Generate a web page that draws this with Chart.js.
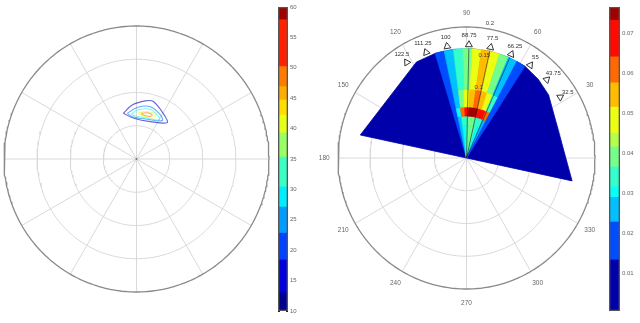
<!DOCTYPE html>
<html><head><meta charset="utf-8">
<script src="https://cdn.jsdelivr.net/npm/chart.js@4.4.1/dist/chart.umd.min.js"></script>
<style>
html,body{margin:0;padding:0;background:#fff;}
#wrap{position:relative;width:640px;height:323px;overflow:hidden;background:#fff;}
canvas{position:absolute;top:0;}
</style></head><body>
<div id="wrap">
<canvas id="leftPolar" width="275" height="323" style="left:0px"></canvas>
<canvas id="leftBar" width="50" height="323" style="left:270px"></canvas>
<canvas id="rightPolar" width="300" height="323" style="left:300px"></canvas>
<canvas id="rightBar" width="40" height="323" style="left:600px"></canvas>
</div>
<script>
// ---------------- shared ----------------
const spokeAngles = [0, 30, 60, 90, 120, 150, 180, 210, 240, 270, 300, 330];

// ---------------- left panel (contour plot) ----------------
const leftRingValues = [1, 2, 3, 4];
const leftContourLevels = [13, 22, 30, 40, 48];
const leftContourAngles = [
  [106.2, 94.6, 81.2, 73.2, 55.6, 49.8, 69.4, 93.8],
  [101.5, 89.2, 75, 61.4, 56.1, 74.9, 95.8],
  [97, 88, 75, 63, 60, 75, 92],
  [88, 78, 67, 68, 82],
  [84, 76, 70, 73, 81]
];
const leftContourRadii = [
  [1.43, 1.63, 1.77, 1.80, 1.54, 1.43, 1.20, 1.23],
  [1.40, 1.55, 1.63, 1.51, 1.39, 1.24, 1.28],
  [1.36, 1.48, 1.55, 1.45, 1.36, 1.27, 1.30],
  [1.38, 1.46, 1.45, 1.33, 1.31],
  [1.38, 1.43, 1.40, 1.34, 1.34]
];
const leftBarLevels = [10, 13, 18.4, 22.8, 27.1, 30.4, 35.3, 39.3, 42.2, 44.7, 46.9, 50.2, 57.9, 60];
const leftBarTicks = [10, 15, 20, 25, 30, 35, 40, 45, 50, 55, 60];

// ---------------- right panel (filled polar contour) ----------------
const rightRingValues = [0.05, 0.1, 0.15, 0.2];
const rightRadialLabelRings = [0.1, 0.15, 0.2];
const fanOutlineAngles = [168, 118, 107, 97, 87, 77, 67, 57, 47, 37, -12];
const fanOutlineRadii = [0.169, 0.166, 0.167, 0.167, 0.167, 0.167, 0.167, 0.167, 0.164, 0.160, 0.168];
const fanBaseValue = 0.004;
const sectorEdges = [107, 102, 97, 92, 87, 82, 77, 72, 67, 62, 57];
const ringEdges = [0, 0.05, 0.064, 0.078, 0.105, 0.167];
const cellValues = [ // rows: rings inner -> outer ; columns: sectors 107deg -> 57deg
  [0.015, 0.024, 0.029, 0.032, 0.038, 0.038, 0.032, 0.029, 0.024, 0.015],
  [0.015, 0.024, 0.032, 0.032, 0.038, 0.038, 0.032, 0.032, 0.024, 0.015],
  [0.015, 0.029, 0.058, 0.070, 0.075, 0.075, 0.070, 0.068, 0.058, 0.015],
  [0.015, 0.024, 0.038, 0.046, 0.052, 0.058, 0.052, 0.046, 0.032, 0.015],
  [0.015, 0.024, 0.032, 0.038, 0.046, 0.052, 0.046, 0.038, 0.024, 0.015]
];
const directionAngles = [122.5, 111.25, 100, 88.75, 77.5, 66.25, 55, 43.75, 32.5];
const directionLabels = ['122.5', '111.25', '100', '88.75', '77.5', '66.25', '55', '43.75', '32.5'];
const highlightedDirections = [88.75, 77.5, 66.25];
const rightBarLevels = [0.0005, 0.0133, 0.0228, 0.029, 0.0316, 0.0366, 0.0416, 0.0451, 0.0516, 0.0577, 0.0642, 0.0734, 0.0767];
const rightBarTicks = [0.01, 0.02, 0.03, 0.04, 0.05, 0.06, 0.07];

// ---------------- helpers ----------------
const FONT = "'Liberation Sans', Arial, sans-serif";
function clamp01(v){ return Math.min(1, Math.max(0, v)); }
function jetRGB(f){
  f = clamp01(f);
  const r = clamp01(Math.min(4*f - 1.5, -4*f + 4.5));
  const g = clamp01(Math.min(4*f - 0.5, -4*f + 3.5));
  const b = clamp01(Math.min(4*f + 0.5, -4*f + 2.5));
  return [Math.round(r*255), Math.round(g*255), Math.round(b*255)];
}
function jet(f, a){
  const c = jetRGB(f);
  return a === undefined ? `rgb(${c[0]},${c[1]},${c[2]})` : `rgba(${c[0]},${c[1]},${c[2]},${a})`;
}
function bandColor(levels, v){
  const lo = levels[0], hi = levels[levels.length-1];
  let i = 0;
  while (i < levels.length - 2 && v >= levels[i+1]) i++;
  const ref = levels[i] + 0.25 * (levels[i+1] - levels[i]);
  return jet((ref - lo) / (hi - lo));
}
const toXY = (deg, r) => ({x: r*Math.cos(deg*Math.PI/180), y: r*Math.sin(deg*Math.PI/180)});
function arc(r, a0, a1, step){
  const n = Math.max(1, Math.ceil(Math.abs(a1 - a0) / step));
  const pts = [];
  for (let i = 0; i <= n; i++) pts.push(toXY(a0 + (a1 - a0) * i / n, r));
  return pts;
}
function lineDs(data, color, width, extra){
  return Object.assign({data, showLine: true, borderColor: color, borderWidth: width,
    pointRadius: 0, fill: false, tension: 0, clip: false}, extra || {});
}
function gridDatasets(rings, outerColor, innerColor){
  const out = [];
  const R = rings[rings.length-1];
  const spokes = [];
  spokeAngles.forEach(a => { spokes.push({x:0,y:0}); spokes.push(toXY(a, R)); spokes.push({x:0,y:null}); });
  out.push(lineDs(spokes, innerColor, 1));
  rings.slice(0, -1).forEach(r => out.push(lineDs(arc(r, 0, 360, 2), innerColor, 1)));
  out.push(lineDs(arc(R, 0, 360, 1), outerColor, 1.3));
  return out;
}
function polarOptions(range, pad){
  return {
    responsive: false, animation: false, devicePixelRatio: 1,
    layout: {padding: pad},
    plugins: {legend: {display: false}, tooltip: {enabled: false}},
    scales: {
      x: {type: 'linear', min: -range, max: range, display: false},
      y: {type: 'linear', min: -range, max: range, display: false}
    }
  };
}
function colorbar(canvasId, levels, ticks, pad, axisWidth, dash){
  const lo = levels[0], hi = levels[levels.length-1];
  const datasets = [];
  for (let i = 0; i < levels.length - 1; i++) {
    datasets.push({data: [[levels[i], levels[i+1]]], backgroundColor: bandColor(levels, levels[i]),
      borderWidth: 0, grouped: false, barPercentage: 1, categoryPercentage: 1});
  }
  datasets.unshift({data: [[lo, hi]], backgroundColor: 'rgba(0,0,0,0)', borderColor: '#555',
    borderWidth: 1, borderSkipped: false, grouped: false, barPercentage: 1, categoryPercentage: 1});
  new Chart(document.getElementById(canvasId), {
    type: 'bar',
    data: {labels: ['c'], datasets},
    options: {
      responsive: false, animation: false, devicePixelRatio: 1,
      layout: {padding: pad},
      plugins: {legend: {display: false}, tooltip: {enabled: false}},
      scales: {
        x: {display: false},
        y: {position: 'right', min: lo, max: hi, z: 1,
          afterFit: s => { s.width = axisWidth; },
          afterBuildTicks: s => { s.ticks = ticks.map(v => ({value: v})); },
          grid: {drawOnChartArea: true, drawTicks: false, color: '#222', lineWidth: 1},
          border: {display: false, dash: dash},
          ticks: {autoSkip: false, padding: 2, color: '#666', font: {size: 6, family: FONT},
            callback: v => String(+(+v).toFixed(4))}
        }
      }
    }
  });
}

// ---------------- left polar chart ----------------
(function(){
  const layers = [];
  gridDatasets(leftRingValues, '#8a8a8a', '#d9d9d9').forEach(d => layers.push(d));
  leftContourLevels.forEach((lev, k) => {
    const pts = leftContourAngles[k].map((a, i) => toXY(a, leftContourRadii[k][i]));
    pts.push(pts[0]);
    const col = jet((lev - leftBarLevels[0]) / (leftBarLevels[leftBarLevels.length-1] - leftBarLevels[0]), 0.6);
    layers.push(lineDs(pts, col, 1.1, {tension: 0.35}));
  });
  layers.push({data: [{x:0,y:0}], pointRadius: 1, pointBackgroundColor: '#777', pointBorderWidth: 0, clip: false});
  new Chart(document.getElementById('leftPolar'), {
    type: 'scatter',
    data: {datasets: layers.reverse()},
    options: polarOptions(leftRingValues[leftRingValues.length-1], {left: 3, right: 6, top: 26, bottom: 31})
  });
})();
colorbar('leftBar', leftBarLevels, leftBarTicks, {left: 8, right: 0, top: 7, bottom: 12}, 32, [2, 6]);

// ---------------- right polar chart ----------------
(function(){
  const layers = [];
  gridDatasets(rightRingValues, '#8a8a8a', '#d9d9d9').forEach(d => layers.push(d));
  const base = [{x:0,y:0}];
  fanOutlineAngles.forEach((a, i) => base.push(toXY(a, fanOutlineRadii[i])));
  base.push({x:0,y:0});
  const baseCol = bandColor(rightBarLevels, fanBaseValue);
  layers.push(lineDs(base, baseCol, 0.8, {fill: 'shape', backgroundColor: baseCol}));
  cellValues.forEach((row, i) => {
    row.forEach((v, j) => {
      const a0 = sectorEdges[j], a1 = sectorEdges[j+1];
      const r0 = ringEdges[i], r1 = ringEdges[i+1];
      let pts = arc(r1, a0, a1, 1);
      if (r0 > 0) pts = pts.concat(arc(r0, a1, a0, 1)); else pts.push({x:0,y:0});
      pts.push(pts[0]);
      const col = bandColor(rightBarLevels, v);
      layers.push(lineDs(pts, col, 0.7, {fill: 'shape', backgroundColor: col}));
    });
  });
  const hl = [];
  highlightedDirections.forEach(a => { hl.push({x:0,y:0}); hl.push(toXY(a, ringEdges[ringEdges.length-1])); hl.push({x:0,y:null}); });
  layers.push(lineDs(hl, 'rgba(20,20,20,0.55)', 1));
  layers.push({data: directionAngles.map(a => toXY(a, 0.173)), showLine: false, clip: false,
    pointStyle: 'triangle', pointRadius: 4, pointBackgroundColor: '#fff', pointBorderColor: '#333',
    pointBorderWidth: 1, pointRotation: directionAngles.map(a => 90 - a)});

  const labelPlugin = {
    id: 'polarLabels',
    afterDatasetsDraw(chart){
      const ctx = chart.ctx, xs = chart.scales.x, ys = chart.scales.y;
      const put = (deg, r, text) => {
        const p = toXY(deg, r);
        ctx.fillText(text, xs.getPixelForValue(p.x), ys.getPixelForValue(p.y));
      };
      ctx.save();
      ctx.textAlign = 'center'; ctx.textBaseline = 'middle';
      ctx.fillStyle = '#666'; ctx.font = `6.5px ${FONT}`;
      spokeAngles.forEach(a => put(a, 0.2215, String(a)));
      ctx.fillStyle = '#333'; ctx.font = `6px ${FONT}`;
      directionAngles.forEach((a, i) => put(a, 0.187, directionLabels[i]));
      ctx.fillStyle = '#444';
      rightRadialLabelRings.forEach(r => put(80, r + 0.009, String(r)));
      ctx.restore();
    }
  };
  new Chart(document.getElementById('rightPolar'), {
    type: 'scatter',
    data: {datasets: layers.reverse()},
    options: polarOptions(rightRingValues[rightRingValues.length-1], {left: 38, right: 0, top: 27, bottom: 34}),
    plugins: [labelPlugin]
  });
})();
colorbar('rightBar', rightBarLevels, rightBarTicks, {left: 9, right: 0, top: 7, bottom: 12}, 20, [2, 7]);
</script>
</body></html>
